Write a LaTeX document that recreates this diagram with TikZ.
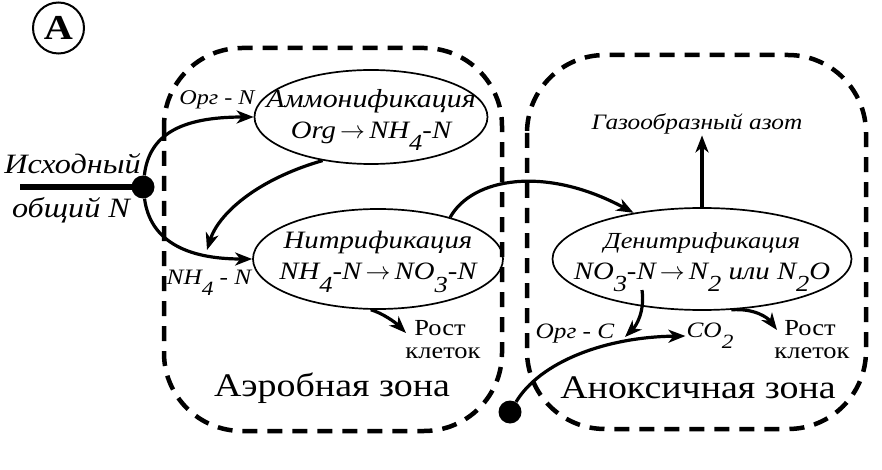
\documentclass[tikz,border=0pt]{standalone}
\usepackage{fontspec}
\setmainfont{Liberation Serif}[FakeStretch=1.15]
\usetikzlibrary{arrows.meta,shapes.geometric}
\newcommand\lowsub[1]{\raisebox{-0.5em}{\scalebox{0.92}{#1}}}
\newcommand\ar{\,$\rightarrow$\,}
\newcommand\fsz[1]{\fontsize{#1}{#1}\selectfont}
\begin{document}
\begin{tikzpicture}[x=1pt,y=-1pt,
  procshape/.style={ellipse, draw, line width=1.7pt, inner sep=0pt},
  proctext/.style={align=center, inner sep=0pt, font=\itshape\fontsize{25}{31}\selectfont},
  zone/.style={draw, line width=4.5pt, dash pattern=on 15pt off 10pt, rounded corners=78pt},
  arr/.style={line width=3.2pt, -{Stealth[length=17pt,width=13pt,inset=5pt]}},
  lbl/.style={inner sep=1pt, font=\itshape\fsz{21}},
  growtxt/.style={inner sep=0pt, anchor=base, text height=0.68em, text depth=0pt, font=\fsz{23}},
  zonetxt/.style={inner sep=0pt, font=\fsz{33}},
  bigdot/.style={circle, fill, inner sep=0pt, minimum size=23pt}
]
\useasboundingbox (0,0) rectangle (882,470);

% circled A
\node[circle, draw, line width=2pt, minimum size=51pt, inner sep=0pt,
      font=\bfseries\fsz{35}] (A) at (58.5,28) {A};

% zones
\draw[zone] (164,48) rectangle (502,431);
\draw[zone] (527,55) rectangle (866,429);

% processes
\node[procshape, minimum width=233pt, minimum height=94pt] (amm) at (371,117) {};
\node[proctext] (ammt) at (371,120) {{\fsz{26}Аммонификация}\\Org\ar NH\lowsub{4}-N};
\node[procshape, minimum width=250pt, minimum height=100pt] (nit) at (378,259) {};
\node[proctext] (nitt) at (378,262) {{\fsz{25}Нитрификация}\\NH\lowsub{4}-N\ar NO\lowsub{3}-N};
\node[procshape, minimum width=299pt, minimum height=102pt] (den) at (702,259) {};
\node[proctext] (dent) at (702,262) {{\fsz{23}Денитрификация}\\NO\lowsub{3}-N\ar N\lowsub{2} или N\lowsub{2}O};

% input
\node[bigdot] (dot) at (143,187) {};
\coordinate (inp) at (20,187);
\draw[line width=5.5pt] (inp) -- (dot.center);
\node[inner sep=0pt, font=\itshape\fsz{28}, anchor=east] (ish) at (141,164) {Исходный};
\node[inner sep=0pt, font=\itshape\fsz{28}] (obsh) at (71,210) {общий N};

% labels
\node[lbl] (orgn) at (217,100) {Орг - N};
\node[lbl, font=\itshape\fsz{22}] (nh4n) at (209,283) {NH\lowsub{4} - N};
\node[lbl, font=\itshape\fsz{22}] (gas) at (697,124) {Газообразный азот};
\node[lbl, font=\itshape\fsz{22}] (orgc) at (575,334) {Орг - C};
\node[lbl, font=\itshape\fsz{22}] (co2) at (710,336) {CO\lowsub{2}};
\node[growtxt] (rost1a) at (440,335) {Рост};
\node[growtxt] (rost1b) at (443,358) {клеток};
\node[growtxt] (rost2a) at (810,335) {Рост};
\node[growtxt] (rost2b) at (812,358) {клеток};
\node[zonetxt] (aer) at (332,388) {Аэробная зона};
\node[zonetxt] (anox) at (698,388) {Аноксичная зона};

% connectors
\coordinate (nhtip) at (207,250);
\coordinate (no3) at (642,290);
\coordinate (ctip) at (625,337);
\coordinate (r1tip) at (406,333);
\coordinate (r2tip) at (777,330);
\node[bigdot] (dot2) at (510,412) {};

\draw[arr] (dot) .. controls (149,135) and (180,117) .. (amm.west);
\draw[arr] (dot) .. controls (150,240) and (185,259) .. (nit.west);
\draw[arr] (amm.222) .. controls (255,180) and (218,215) .. (nhtip);
\draw[arr] (nit.30) .. controls (472,178) and (545,165) .. (den.146);
\draw[arr] (den.north) -- (den.north |- gas.south);
\draw[arr] (nit.262) .. controls (382,313) and (395,322) .. (r1tip);
\draw[arr] (den.-60) .. controls (755,308) and (768,318) .. (r2tip);
\draw[arr] (no3) .. controls (645,312) and (636,326) .. (ctip);
\draw[arr] (dot2) .. controls (540,362) and (605,337) .. (co2.west);
\end{tikzpicture}
\end{document}
